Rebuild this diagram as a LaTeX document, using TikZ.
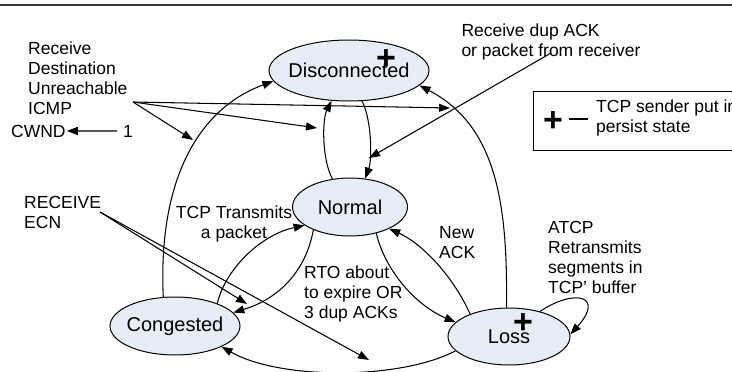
\documentclass[tikz,border=0pt]{standalone}
\usepackage{fontspec}
\setmainfont{Liberation Sans}
\usetikzlibrary{shapes.geometric, arrows.meta, positioning}
\definecolor{statefill}{RGB}{231,237,247}
\definecolor{rulegray}{RGB}{55,55,55}

\tikzset{
  state/.style={ellipse, draw, line width=1pt, fill=statefill, inner sep=-20pt,
    font=\fontsize{20}{24}\selectfont},
  note/.style={anchor=north west, align=left, inner sep=0pt,
    font=\fontsize{17.5}{20}\selectfont},
  flow/.style={line width=1.05pt, -{Triangle[length=11pt,width=8pt]}},
  plusmark/.style={anchor=base, inner sep=0pt, font=\bfseries\fontsize{34}{34}\selectfont}
}

\begin{document}
\begin{tikzpicture}[x=1pt, y=-1pt]
        \useasboundingbox (0,0) rectangle (732,372);
        \clip (0,0) rectangle (732,372);

        % Top rule
        \draw[rulegray, line width=1.7pt] (0,4.8) -- (732,4.8);

        % States
        \node[state, minimum width=160pt, minimum height=61pt] (disc) at (349,70.5) {Disconnected};
        \node[state, minimum width=115pt, minimum height=58pt] (norm) at (350,207) {Normal};
        \node[state, minimum width=130pt, minimum height=58pt] (cong) at (175,326) {Congested};
        \node[state, minimum width=122pt, minimum height=57pt] (loss) at (509,336.5) {Loss};

        % Persist marks
        \node[plusmark] (discplus) at (386,69) {+};
        \node[plusmark] (lossplus) at (523,333) {+};

        % Transitions
        \draw[flow] (cong.112) .. controls (158,185) and (195,110) .. (disc.188);
        \draw[flow] (norm.122) .. controls (322,160) and (322,120) .. (disc.240);
        \draw[flow] (disc.293) .. controls (372,120) and (372,160) .. (norm.62);
        \draw[flow] (loss.95) .. controls (508,200) and (495,125) .. (disc.348);
        \draw[flow] (norm.212) .. controls (305,275) and (275,300) .. (cong.13);
        \draw[flow] (cong.28) .. controls (225,270) and (260,235) .. (norm.202);
        \draw[flow] (norm.315) .. controls (385,270) and (415,305) .. (loss.165);
        \draw[flow] (loss.150) .. controls (455,280) and (425,245) .. (norm.331);
        \draw[flow] (loss.195) .. controls (400,380) and (280,380) .. (cong.336);
        \draw[flow] (loss.39) .. controls (575,288) and (605,296) .. (loss.2);

        % ICMP event
        \node[note] (icmp) at (28,41.7) {Receive\\Destination\\Unreachable\\ICMP};
        \coordinate (icmpsrc) at (133,102);
        \coordinate (icmpa) at (193,140);
        \coordinate (icmpb) at (317,128);
        \coordinate (icmpc) at (450,108);
        \draw[flow] (icmpsrc) -- (icmpa);
        \draw[flow] (icmpsrc) -- (icmpb);
        \draw[flow] (icmpsrc) -- (icmpc);

        % CWND reset
        \node[note, anchor=base west] (cwnd) at (11,137) {CWND};
        \node[note, anchor=base west] (one) at (123,137) {1};
        \draw[flow] ([xshift=-6pt]one.west) -- ([xshift=1pt]cwnd.east);

        % Dup ACK event
        \node[note] (dupack) at (461.3,23.3) {Receive dup ACK\\or packet from receiver};
        \coordinate (dupsrc) at (551,53);
        \coordinate (dupend) at (369,158);
        \draw[flow] (dupsrc) -- (dupend);

        % ECN event
        \node[note] (ecn) at (24,196) {RECEIVE\\ECN};
        \coordinate (ecnsrc) at (100,212);
        \coordinate (ecna) at (247,304);
        \coordinate (ecnb) at (369,360);
        \draw[flow] (ecnsrc) -- (ecna);
        \draw[flow] (ecnsrc) -- (ecnb);

        % Transition labels
        \node[note, anchor=north, align=center] (transmit) at (234,206) {TCP Transmits\\a packet};
        \node[note] (rto) at (304,266) {RTO about\\to expire OR\\3 dup ACKs};
        \node[note] (newack) at (439,226.5) {New\\ACK};
        \node[note] (atcp) at (548,221) {ATCP\\Retransmits\\segments in\\TCP' buffer};

        % Legend
        \draw[line width=1pt] (533,91) rectangle (745,150);
        \node[plusmark] (legplus) at (553,131) {+};
        \draw[line width=1.2pt] (569,119) -- (588,119);
        \node[note] (legtext) at (596,100) {TCP sender put in\\persist state};
\end{tikzpicture}
\end{document}
